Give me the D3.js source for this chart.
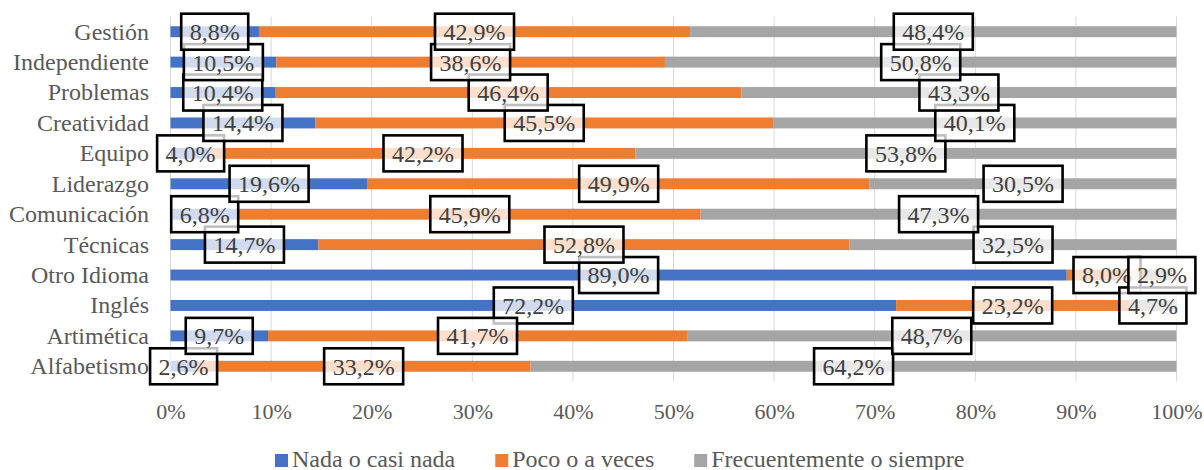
<!DOCTYPE html>
<html><head><meta charset="utf-8">
<script src="https://cdn.jsdelivr.net/npm/d3@7"></script>
<style>body{margin:0;background:#fff}svg{display:block}text{font-family:"Liberation Serif","Times New Roman",serif}</style>
</head><body><svg id="c" width="1204" height="470"></svg>
<script>
const categories = ["Gestión","Independiente","Problemas","Creatividad","Equipo","Liderazgo","Comunicación","Técnicas","Otro Idioma","Inglés","Artimética","Alfabetismo"];
const seriesNames = ["Nada o casi nada","Poco o a veces","Frecuentemente o siempre"];
const nada   = [8.8,10.5,10.4,14.4,4.0,19.6,6.8,14.7,89.0,72.2,9.7,2.6];
const poco   = [42.9,38.6,46.4,45.5,42.2,49.9,45.9,52.8,8.0,23.2,41.7,33.2];
const frecue = [48.4,50.8,43.3,40.1,53.8,30.5,47.3,32.5,2.9,4.7,48.7,64.2];
const tickValues = [0,0.1,0.2,0.3,0.4,0.5,0.6,0.7,0.8,0.9,1.0];
const colors = ["#4472C4","#ED7D31","#A5A5A5"];

const rows = categories.map((c,i)=>({cat:c, s0:nada[i], s1:poco[i], s2:frecue[i]}));
const keys = ["s0","s1","s2"];
const stack = d3.stack().keys(keys).offset(d3.stackOffsetExpand)(rows);

const svg = d3.select("#c");
const x = d3.scaleLinear().domain([0,1]).range([170.5,1176.5]);
const y = d3.scaleBand().domain(categories).range([16.5,381.5]).paddingInner(0.64).paddingOuter(0.32);
const bw = y.bandwidth();

// gridlines
svg.append("g").selectAll("line").data(tickValues).join("line")
  .attr("x1",d=>x(d)).attr("x2",d=>x(d)).attr("y1",16.5).attr("y2",381.5)
  .attr("stroke","#D9D9D9").attr("stroke-width",1);

// x axis labels
const xAxis = d3.axisBottom(x).tickValues(tickValues).tickFormat(d3.format(".0%")).tickSize(0).tickPadding(0);
const gx = svg.append("g").attr("transform","translate(0,403)").call(xAxis);
gx.select(".domain").remove();
gx.selectAll("text").attr("font-size",22).attr("fill","#595959").attr("dy","0.71em")
  .style("font-family",'"Liberation Serif","Times New Roman",serif');

// y axis labels
const yAxis = d3.axisLeft(y).tickSize(0).tickPadding(0);
const gy = svg.append("g").attr("transform","translate(149,0)").call(yAxis);
gy.select(".domain").remove();
gy.selectAll("text").attr("font-size",24).attr("fill","#595959").attr("dy","0.33em")
  .style("font-family",'"Liberation Serif","Times New Roman",serif');

// bars
svg.append("g").selectAll("g").data(stack).join("g").attr("fill",(d,i)=>colors[i])
  .selectAll("rect").data(d=>d).join("rect")
  .attr("x",d=>x(d[0])).attr("width",d=>x(d[1])-x(d[0]))
  .attr("y",d=>y(d.data.cat)).attr("height",bw);

// data labels
const fmt = v => v.toFixed(1).replace(".",",")+"%";
const lg = svg.append("g");
stack.forEach((s,si)=>{
  s.slice().reverse().forEach(d=>{
    const val = d.data[keys[si]];
    const cx = x((d[0]+d[1])/2);
    const cy = y(d.data.cat)+bw/2;
    const g = lg.append("g");
    const r = g.append("rect");
    const t = g.append("text").attr("x",cx).attr("y",cy).attr("dy","0.35em")
      .attr("text-anchor","middle").attr("font-size",24).attr("fill","#404040").text(fmt(val));
    const w = t.node().getComputedTextLength();
    r.attr("x",cx-w/2-8.5).attr("y",cy-18).attr("width",w+17).attr("height",36)
      .attr("fill","#fff").attr("fill-opacity",0.75).attr("stroke","#000").attr("stroke-width",2.6);
  });
});

// legend
const leg = svg.append("g");
let lx = 275;
seriesNames.forEach((n,i)=>{
  leg.append("rect").attr("x",lx).attr("y",454).attr("width",13).attr("height",13).attr("fill",colors[i]);
  const t = leg.append("text").attr("x",lx+17).attr("y",467).attr("font-size",24).attr("fill","#595959").text(n);
  lx += 17 + t.node().getComputedTextLength() + 40;
});
</script></body></html>
